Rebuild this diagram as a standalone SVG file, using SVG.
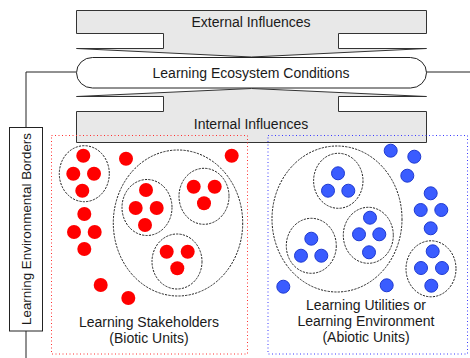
<svg xmlns="http://www.w3.org/2000/svg" width="470" height="358" viewBox="0 0 470 358">
<style>
text{font-family:"Liberation Sans",Arial,sans-serif;font-size:14px;fill:#1a1a1a;text-anchor:middle}
.blk{fill:#e8e8e8;stroke:#333;stroke-width:1;stroke-linejoin:miter}
.ln{fill:none;stroke:#222;stroke-width:1}
.dash{fill:none;stroke:#222;stroke-width:1;stroke-dasharray:2.2 1.2}
.r{fill:#ff0000}
.b{fill:#3a5cff;stroke:#1f3ad0;stroke-width:1}
</style>
<rect width="470" height="358" fill="#fff"/>
<g id="connectors">
<polyline class="ln" points="76,72 26,72 26,127"/>
<line class="ln" x1="26" y1="331" x2="26" y2="358"/>
<line class="ln" x1="426" y1="72" x2="470" y2="72"/>
</g>
<g id="external">
<path class="blk" d="M76.5,10.5H426.5V33.5H338.5V48.5H426.5L251.5,57L76.5,48.5H163.5V33.5H76.5Z"/>
<text x="251" y="26.5">External Influences</text>
</g>
<g id="conditions">
<rect x="76.5" y="57.5" width="350" height="30.5" rx="16" ry="15.25" fill="#fff" stroke="#222"/>
<text x="251" y="77.5">Learning Ecosystem Conditions</text>
</g>
<g id="internal">
<path class="blk" d="M76.5,142.5H426.5V111.5H338.5V96.5H426.5L251.5,88.5L76.5,96.5H163.5V111.5H76.5Z"/>
<text x="251" y="129">Internal Influences</text>
</g>
<g id="borders">
<rect x="9.5" y="127.5" width="33" height="203.5" fill="#fff" stroke="#222"/>
<text transform="translate(31,229) rotate(-90)" style="font-size:13.4px">Learning Environmental Borders</text>
</g>
<g id="biotic">
<rect x="51.5" y="135.5" width="196" height="218.5" fill="none" stroke="#ff3030" stroke-dasharray="1 2.5"/>
<ellipse class="dash" cx="84.3" cy="173.7" rx="25" ry="28"/>
<ellipse class="dash" cx="178" cy="223" rx="64.7" ry="73"/>
<ellipse class="dash" cx="147" cy="207.5" rx="25" ry="28"/>
<ellipse class="dash" cx="204" cy="196.3" rx="25" ry="28"/>
<ellipse class="dash" cx="177" cy="261.5" rx="25" ry="27.5"/>
<g class="r">
<circle cx="83.3" cy="155.7" r="7"/><circle cx="73.3" cy="173.7" r="7"/><circle cx="94" cy="173.7" r="7"/><circle cx="82.3" cy="190.7" r="7"/>
<circle cx="126" cy="158.8" r="7"/><circle cx="231.7" cy="155.7" r="7"/>
<circle cx="84.3" cy="214" r="7"/><circle cx="74" cy="232" r="7"/><circle cx="94.7" cy="232" r="7"/><circle cx="84.3" cy="249" r="7"/>
<circle cx="100.7" cy="285" r="7"/><circle cx="128.3" cy="298" r="7"/>
<circle cx="146" cy="190" r="7"/><circle cx="135.7" cy="208" r="7"/><circle cx="156.7" cy="208" r="7"/><circle cx="145" cy="225" r="7"/>
<circle cx="193.7" cy="186.7" r="7"/><circle cx="214.7" cy="186.7" r="7"/><circle cx="204" cy="203.3" r="7"/>
<circle cx="166.7" cy="251.7" r="7"/><circle cx="187.7" cy="251.7" r="7"/><circle cx="177.3" cy="268.3" r="7"/>
</g>
<text x="149" y="326.5">Learning Stakeholders</text>
<text x="149" y="342.5">(Biotic Units)</text>
</g>
<g id="abiotic">
<rect x="268" y="135.5" width="199.5" height="218.5" fill="none" stroke="#3a3aff" stroke-dasharray="1 2.5"/>
<ellipse class="dash" cx="337" cy="219" rx="65" ry="73"/>
<ellipse class="dash" cx="338.3" cy="180.8" rx="24.7" ry="27.5"/>
<ellipse class="dash" cx="311.3" cy="245.8" rx="25" ry="27.5"/>
<ellipse class="dash" cx="368.3" cy="235.3" rx="25" ry="28"/>
<ellipse class="dash" cx="431" cy="268.8" rx="25" ry="28"/>
<g class="b">
<circle cx="338" cy="173.3" r="6.5"/><circle cx="328" cy="190.7" r="6.5"/><circle cx="348.3" cy="190.7" r="6.5"/>
<circle cx="311.3" cy="238.7" r="6.5"/><circle cx="301" cy="255.7" r="6.5"/><circle cx="321.3" cy="255.7" r="6.5"/>
<circle cx="370" cy="217.7" r="6.5"/><circle cx="359" cy="234.3" r="6.5"/><circle cx="379.3" cy="234.3" r="6.5"/><circle cx="369" cy="252.3" r="6.5"/>
<circle cx="283.3" cy="286.7" r="6.5"/><circle cx="386.7" cy="285.3" r="6.5"/>
<circle cx="390.7" cy="150.7" r="6.5"/><circle cx="414.3" cy="156.7" r="6.5"/><circle cx="407.3" cy="175.7" r="6.5"/>
<circle cx="430.7" cy="193.3" r="6.5"/><circle cx="420.7" cy="210" r="6.5"/><circle cx="441.3" cy="210" r="6.5"/><circle cx="430.7" cy="228.3" r="6.5"/>
<circle cx="432.7" cy="251.3" r="6.5"/><circle cx="421" cy="268" r="6.5"/><circle cx="442" cy="268" r="6.5"/><circle cx="431.3" cy="285.7" r="6.5"/>
</g>
<text x="366" y="310">Learning Utilities or</text>
<text x="366" y="326">Learning Environment</text>
<text x="366" y="342">(Abiotic Units)</text>
</g>
</svg>
